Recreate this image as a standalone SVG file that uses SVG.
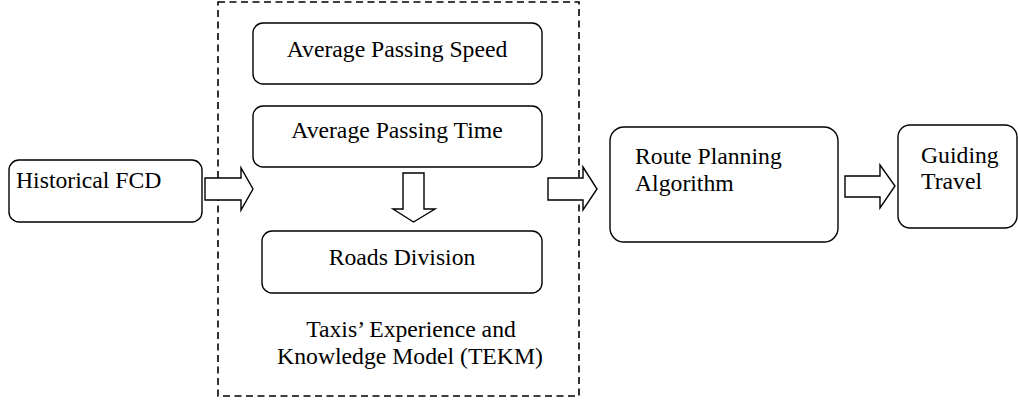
<svg xmlns="http://www.w3.org/2000/svg" width="1018" height="405" viewBox="0 0 1018 405">
<style>
.box{fill:#fff;stroke:#000;stroke-width:1.4}
.arr{fill:#fff;stroke:#000;stroke-width:1.4;stroke-linejoin:miter}
.dash{fill:none;stroke:#000;stroke-width:1.6;stroke-dasharray:7 4.5}
text{font-family:"Liberation Serif","Times New Roman",serif;font-size:23.7px;fill:#000}
.c{text-anchor:middle}
</style>
<rect width="1018" height="405" fill="#fff"/>
<g id="tekm">
<rect class="dash" x="218" y="2" width="361" height="394"/>
<text class="c" x="411" y="337">Taxis’ Experience and</text>
<text class="c" x="410" y="364">Knowledge Model (TEKM)</text>
</g>
<g id="historical-fcd">
<rect class="box" x="9" y="160" width="193" height="62" rx="10"/>
<text x="16" y="188">Historical FCD</text>
</g>
<g id="avg-speed">
<rect class="box" x="253" y="23" width="289" height="61" rx="10"/>
<text class="c" x="397" y="57">Average Passing Speed</text>
</g>
<g id="avg-time">
<rect class="box" x="253" y="106" width="289" height="61" rx="10"/>
<text class="c" x="397" y="138">Average Passing Time</text>
</g>
<g id="roads-division">
<rect class="box" x="262" y="231" width="280" height="62" rx="10"/>
<text class="c" x="402" y="265">Roads Division</text>
</g>
<g id="route-planning">
<rect class="box" x="610" y="127" width="228" height="115" rx="14"/>
<text x="635" y="164">Route Planning</text>
<text x="635" y="191">Algorithm</text>
</g>
<g id="guiding-travel">
<rect class="box" x="898" y="125" width="119" height="103" rx="12"/>
<text x="921" y="163">Guiding</text>
<text x="921" y="189">Travel</text>
</g>
<g id="connectors">
<polygon class="arr" points="205,178 241,178 241,168 253,189 241,210 241,200 205,200"/>
<polygon class="arr" points="403,173 424,173 424,209 435,209 413.5,222 393,209 403,209"/>
<polygon class="arr" points="548,178 583,178 583,167 597,189 583,210 583,200 548,200"/>
<polygon class="arr" points="845,176 880,176 880,165 895,186 880,208 880,197 845,197"/>
</g>
</svg>
